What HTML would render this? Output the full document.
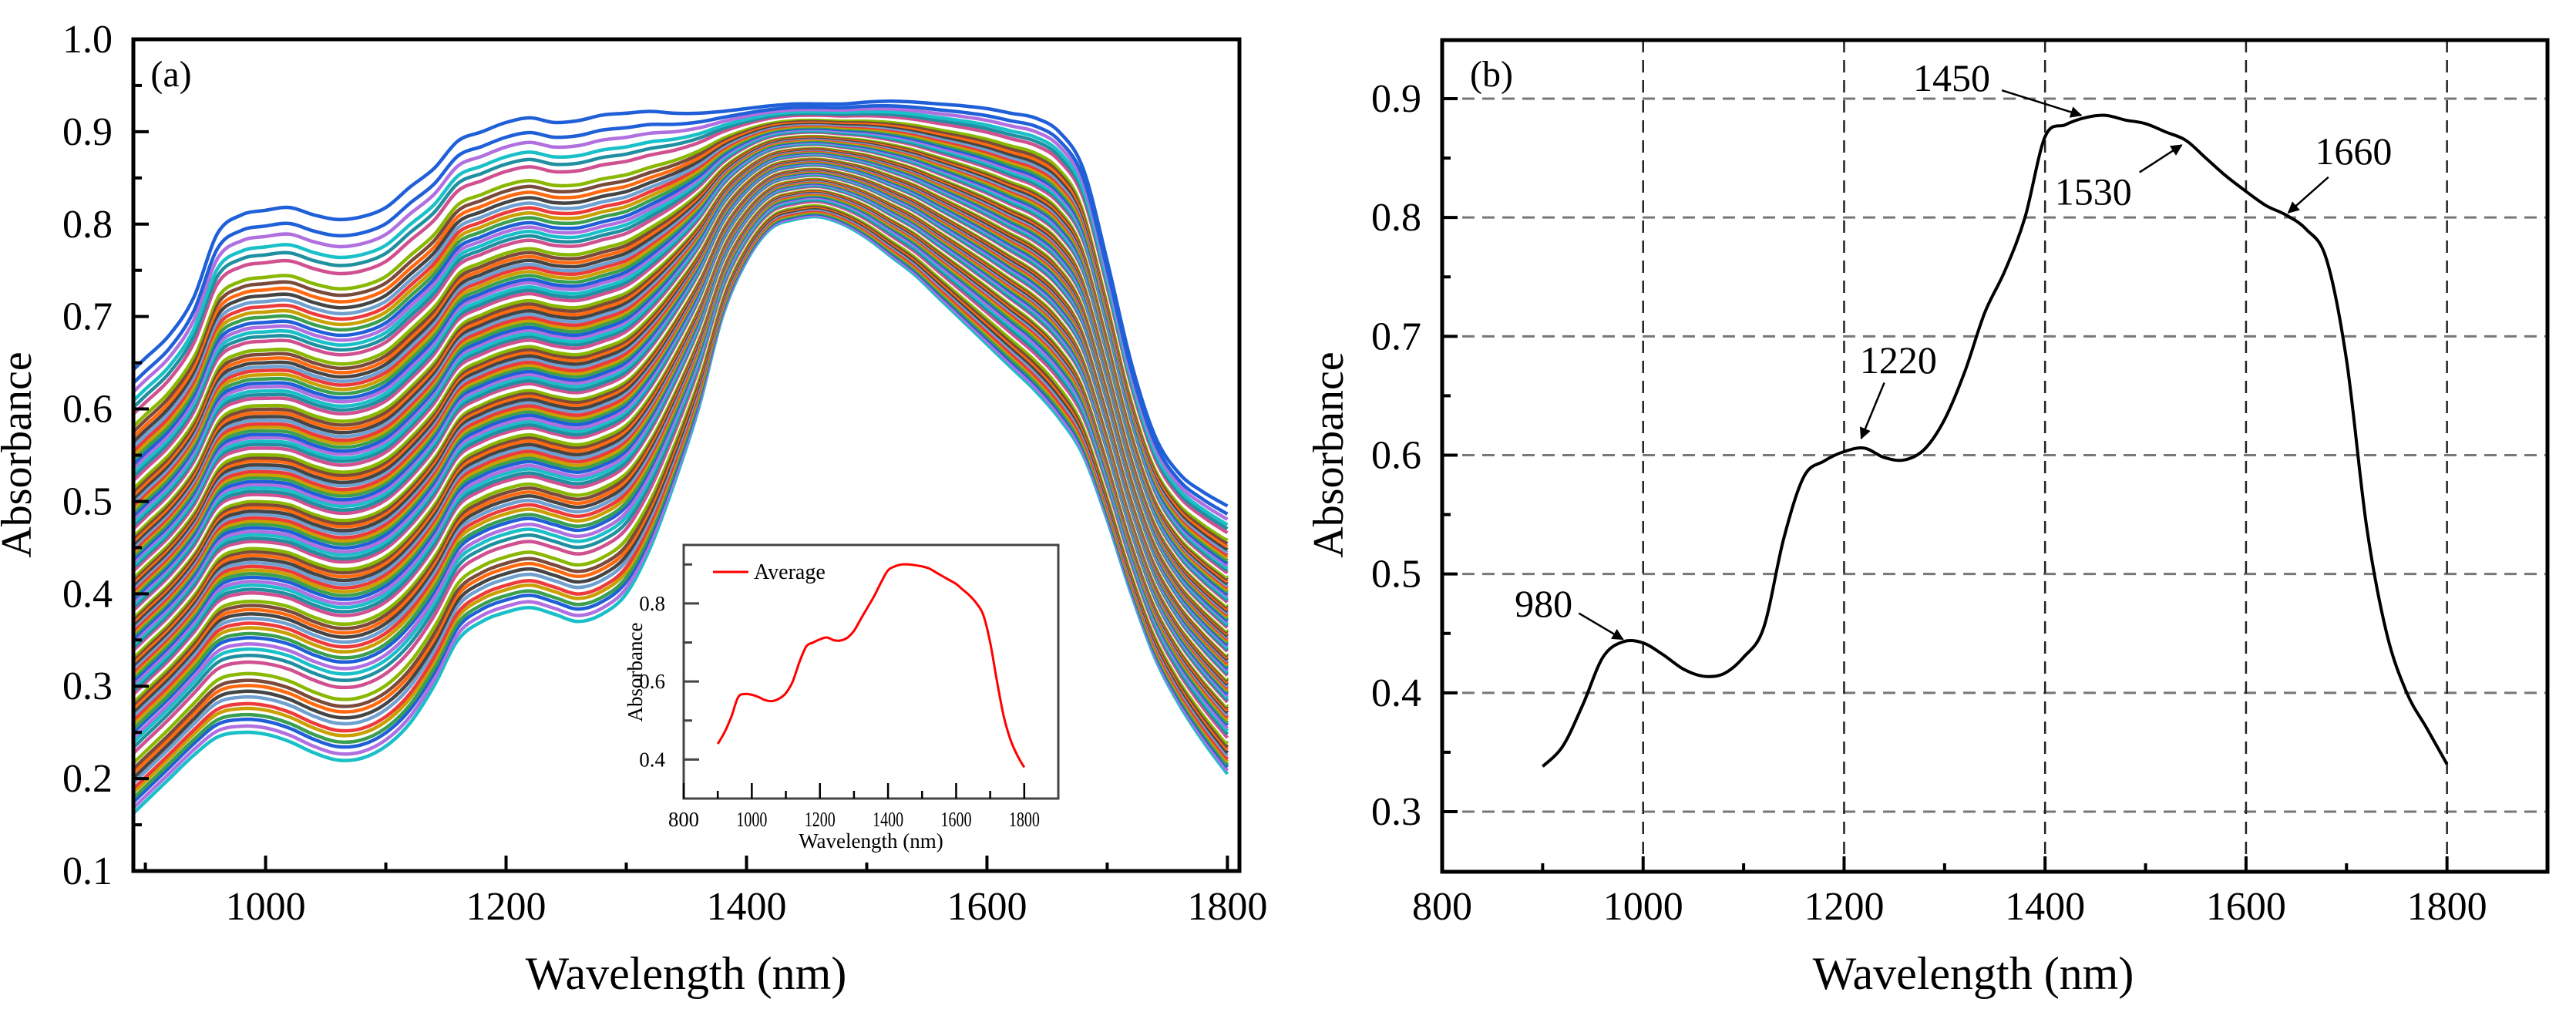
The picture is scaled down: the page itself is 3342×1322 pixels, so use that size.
<!DOCTYPE html>
<html><head><meta charset="utf-8"><style>
html,body{margin:0;padding:0;background:#fff;}
svg{display:block;font-family:"Liberation Serif",serif;}
text{font-family:"Liberation Serif",serif;}
</style></head><body>
<svg id="fig" width="3342" height="1322" viewBox="0 0 3342 1322" xmlns="http://www.w3.org/2000/svg" font-family="Liberation Serif, serif">
<g id="panelA"></g>
<g id="inset"></g>
<g id="panelB"></g>
</svg>
<script>
// ---------- data ----------
const wl = [900,920,940,960,980,1000,1020,1040,1060,1080,1100,1120,1140,1160,1180,1200,1220,1240,1260,1280,1300,1320,1340,1360,1380,1400,1420,1440,1460,1480,1500,1520,1540,1560,1580,1600,1620,1640,1660,1680,1700,1720,1740,1760,1780,1800];
const lowSpectrum = [0.175,0.2,0.225,0.245,0.25,0.248,0.24,0.228,0.22,0.222,0.235,0.26,0.30,0.35,0.37,0.38,0.385,0.378,0.37,0.378,0.40,0.45,0.52,0.60,0.70,0.76,0.795,0.805,0.808,0.80,0.785,0.765,0.745,0.72,0.695,0.67,0.645,0.62,0.59,0.55,0.48,0.40,0.33,0.28,0.24,0.205];
const highSpectrum = [0.655,0.68,0.72,0.79,0.81,0.815,0.818,0.81,0.805,0.808,0.818,0.84,0.86,0.89,0.90,0.91,0.915,0.91,0.912,0.918,0.92,0.922,0.92,0.92,0.922,0.925,0.928,0.93,0.93,0.93,0.932,0.933,0.932,0.93,0.928,0.925,0.92,0.915,0.90,0.86,0.76,0.65,0.57,0.53,0.51,0.495];
const sampleLevels = [0,0.012,0.025,0.034,0.046,0.055,0.068,0.079,0.09,0.1,0.113,0.126,0.135,0.148,0.16,0.17,0.182,0.19,0.201,0.21,0.219,0.228,0.236,0.244,0.252,0.26,0.268,0.275,0.283,0.29,0.298,0.305,0.312,0.319,0.326,0.333,0.34,0.347,0.353,0.36,0.367,0.373,0.38,0.386,0.393,0.4,0.406,0.412,0.419,0.425,0.432,0.438,0.444,0.45,0.457,0.463,0.47,0.476,0.482,0.489,0.495,0.501,0.508,0.514,0.521,0.527,0.533,0.54,0.546,0.553,0.559,0.566,0.572,0.579,0.586,0.592,0.599,0.606,0.613,0.62,0.627,0.634,0.641,0.648,0.655,0.663,0.67,0.678,0.686,0.694,0.701,0.709,0.717,0.725,0.733,0.742,0.75,0.759,0.768,0.777,0.786,0.796,0.806,0.816,0.826,0.837,0.848,0.86,0.872,0.885,0.9,0.915,0.93,0.95,0.97,1.0];
const palette = ['#19c0c8','#b070e0','#1f5fd8','#3aa050','#c8a000','#ee3a3a','#6fa0d0','#454545','#ff6a10','#7a4a3a','#8ab800','#ffffff','#d05090','#2090a0'];
const avgInset = [0.44,0.47,0.51,0.56,0.568,0.566,0.56,0.552,0.55,0.556,0.57,0.60,0.65,0.69,0.70,0.708,0.713,0.706,0.705,0.712,0.73,0.76,0.79,0.82,0.855,0.885,0.895,0.9,0.9,0.898,0.895,0.89,0.88,0.87,0.86,0.85,0.835,0.82,0.80,0.77,0.70,0.60,0.51,0.45,0.41,0.38];
const meanB = [0.338,0.355,0.39,0.43,0.443,0.442,0.432,0.42,0.414,0.416,0.43,0.455,0.53,0.582,0.595,0.603,0.606,0.598,0.596,0.605,0.63,0.67,0.72,0.755,0.80,0.868,0.878,0.884,0.886,0.882,0.879,0.872,0.865,0.85,0.835,0.822,0.81,0.802,0.79,0.765,0.68,0.54,0.45,0.40,0.37,0.34];
const peakLabels = ['980','1220','1450','1530','1660'];
const peakText = [[901,0.475],[1254,0.68],[1307,0.9175],[1448,0.822],[1707,0.856]];
const peakArrow = [[936,0.467,980,0.445],[1240,0.661,1217,0.614],[1357,0.907,1436,0.886],[1494,0.838,1536,0.861],[1682,0.834,1642,0.804]];
const ticksA_x = [1000,1200,1400,1600,1800];
const ticksA_y = [0.1,0.2,0.3,0.4,0.5,0.6,0.7,0.8,0.9,1.0];
const ticksB_x = [800,1000,1200,1400,1600,1800];
const ticksB_y = [0.3,0.4,0.5,0.6,0.7,0.8,0.9];
const ticksI_x = [800,1000,1200,1400,1600,1800];
const ticksI_y = [0.4,0.6,0.8];

// ---------- helpers ----------
const NS='http://www.w3.org/2000/svg';
function mk(parent,tag,attrs,text){const e=document.createElementNS(NS,tag);for(const k in attrs)e.setAttribute(k,attrs[k]);if(tag==='text')e.setAttribute('font-family','Liberation Serif, serif');if(text!==undefined)e.textContent=text;parent.appendChild(e);return e;}
function pathD(xs,ys,sx,sy){
  const P=xs.map((x,i)=>[sx(x),sy(ys[i])]);
  let d='M'+P[0][0].toFixed(1)+' '+P[0][1].toFixed(1);
  for(let i=0;i<P.length-1;i++){
    const p0=P[Math.max(i-1,0)],p1=P[i],p2=P[i+1],p3=P[Math.min(i+2,P.length-1)];
    const c1=[p1[0]+(p2[0]-p0[0])/6,p1[1]+(p2[1]-p0[1])/6];
    const c2=[p2[0]-(p3[0]-p1[0])/6,p2[1]-(p3[1]-p1[1])/6];
    d+=' C'+c1[0].toFixed(1)+' '+c1[1].toFixed(1)+' '+c2[0].toFixed(1)+' '+c2[1].toFixed(1)+' '+p2[0].toFixed(1)+' '+p2[1].toFixed(1);
  }
  return d;
}

// ---------- panel A ----------
const A=document.getElementById('panelA');
const aL=173,aR=1608,aT=51,aB=1130;
const ax=v=>aL+(v-890)*(aR-aL)/(1810-890);
const ay=v=>aB-(v-0.1)*(aB-aT)/(1.0-0.1);
const clipA=mk(A,'clipPath',{id:'clipA'});mk(clipA,'rect',{x:aL,y:aT,width:aR-aL,height:aB-aT});
const curves=mk(A,'g',{'clip-path':'url(#clipA)'});


sampleLevels.forEach((k,i)=>{
  const ys=wl.map((w,j)=>lowSpectrum[j]+k*(highSpectrum[j]-lowSpectrum[j]));
  const xs=[885].concat(wl);const yy=[ys[0]-(ys[1]-ys[0])*0.75].concat(ys);
  const p=mk(curves,'path',{d:pathD(xs,yy,ax,ay),fill:'none',stroke:i===sampleLevels.length-1?'#1f5fd8':palette[i%palette.length],'stroke-width':4.5,'stroke-linejoin':'round'});
  
  
});
const frameA=mk(A,'rect',{x:aL,y:aT,width:aR-aL,height:aB-aT,fill:'none',stroke:'#000','stroke-width':5});

ticksA_x.forEach(t=>{mk(A,'line',{x1:ax(t),x2:ax(t),y1:aB,y2:aB-20,stroke:'#000','stroke-width':4});
  const l=mk(A,'text',{x:ax(t),y:1193,'font-size':52,'text-anchor':'middle'},String(t));});
[900,1100,1300,1500,1700].forEach(t=>mk(A,'line',{x1:ax(t),x2:ax(t),y1:aB,y2:aB-11,stroke:'#000','stroke-width':4}));
ticksA_y.forEach(t=>{mk(A,'line',{x1:aL,x2:aL+20,y1:ay(t),y2:ay(t),stroke:'#000','stroke-width':4});
  const l=mk(A,'text',{x:146,y:ay(t)+17,'font-size':52,'text-anchor':'end'},t.toFixed(1));});
[0.15,0.25,0.35,0.45,0.55,0.65,0.75,0.85,0.95].forEach(t=>mk(A,'line',{x1:aL,x2:aL+11,y1:ay(t),y2:ay(t),stroke:'#000','stroke-width':4}));
let t1=mk(A,'text',{x:40,y:590,'font-size':56,'text-anchor':'middle',transform:'rotate(-90 40 590)'},'Absorbance');
let t2=mk(A,'text',{x:890,y:1283,'font-size':60,'text-anchor':'middle'},'Wavelength (nm)');
let t3=mk(A,'text',{x:222,y:112,'font-size':48,'text-anchor':'middle'},'(a)');

// ---------- inset ----------
const I=document.getElementById('inset');
const iL=887,iR=1373,iT=707,iB=1036;
const ix=v=>iL+(v-800)*(iR-iL)/(1900-800);
const iy=v=>iB-(v-0.3)*(iB-iT)/(0.95-0.3);
mk(I,'rect',{x:iL,y:iT,width:iR-iL,height:iB-iT,fill:'#fff',stroke:'#444','stroke-width':3});
const ip=mk(I,'path',{d:pathD(wl,avgInset,ix,iy),fill:'none',stroke:'#ff0000','stroke-width':3});

ticksI_x.forEach(t=>{mk(I,'line',{x1:ix(t),x2:ix(t),y1:iB,y2:iB-20,stroke:'#000','stroke-width':2.5});
  const l=mk(I,'text',{x:ix(t),y:1072,'font-size':27,'text-anchor':'middle',textLength:40,lengthAdjust:'spacingAndGlyphs'},String(t));});
[900,1100,1300,1500,1700].forEach(t=>mk(I,'line',{x1:ix(t),x2:ix(t),y1:iB,y2:iB-10,stroke:'#000','stroke-width':2.5}));
ticksI_y.forEach(t=>{mk(I,'line',{x1:iL,x2:iL+20,y1:iy(t),y2:iy(t),stroke:'#444','stroke-width':3});
  const l=mk(I,'text',{x:863,y:iy(t)+9,'font-size':27,'text-anchor':'end'},t.toFixed(1));});
[0.5,0.7,0.9].forEach(t=>mk(I,'line',{x1:iL,x2:iL+11,y1:iy(t),y2:iy(t),stroke:'#444','stroke-width':3}));
let i1=mk(I,'text',{x:833,y:872,'font-size':27,'text-anchor':'middle',transform:'rotate(-90 833 872)'},'Absorbance');
let i2=mk(I,'text',{x:1130,y:1100,'font-size':27,'text-anchor':'middle'},'Wavelength (nm)');
const lg=mk(I,'g',{});
mk(lg,'line',{x1:925,x2:971,y1:742,y2:742,stroke:'#ff0000','stroke-width':3});
mk(lg,'text',{x:978,y:751,'font-size':28},'Average');

// ---------- panel B ----------
const B=document.getElementById('panelB');
const bL=1871,bR=3305,bT=52,bB=1131;
const bx=v=>bL+(v-800)*(bR-bL)/(1900-800);
const by=v=>128+(0.9-v)*1541.7;
ticksB_y.forEach(t=>{const g=mk(B,'line',{x1:bL,x2:bR,y1:by(t),y2:by(t),stroke:'#777','stroke-width':3,'stroke-dasharray':'16 10'});});
[1000,1200,1400,1600,1800].forEach(t=>{const g=mk(B,'line',{x1:bx(t),x2:bx(t),y1:bT,y2:bB,stroke:'#222','stroke-width':2.5,'stroke-dasharray':'16 10'});});
const bp=mk(B,'path',{d:pathD(wl,meanB,bx,by),fill:'none',stroke:'#000','stroke-width':4,'stroke-linejoin':'round'});

const fb=mk(B,'rect',{x:bL,y:bT,width:bR-bL,height:bB-bT,fill:'none',stroke:'#000','stroke-width':5});

ticksB_x.forEach(t=>{mk(B,'line',{x1:bx(t),x2:bx(t),y1:bB,y2:bB-20,stroke:'#000','stroke-width':4});
  const l=mk(B,'text',{x:bx(t),y:1193,'font-size':52,'text-anchor':'middle'},String(t));});
[900,1100,1300,1500,1700].forEach(t=>mk(B,'line',{x1:bx(t),x2:bx(t),y1:bB,y2:bB-11,stroke:'#000','stroke-width':4}));
ticksB_y.forEach(t=>{mk(B,'line',{x1:bL,x2:bL+20,y1:by(t),y2:by(t),stroke:'#000','stroke-width':4});
  const l=mk(B,'text',{x:1844,y:by(t)+17,'font-size':52,'text-anchor':'end'},t.toFixed(1));});
[0.35,0.45,0.55,0.65,0.75,0.85].forEach(t=>mk(B,'line',{x1:bL,x2:bL+11,y1:by(t),y2:by(t),stroke:'#000','stroke-width':4}));
let b1=mk(B,'text',{x:1742,y:590,'font-size':56,'text-anchor':'middle',transform:'rotate(-90 1742 590)'},'Absorbance');
let b2=mk(B,'text',{x:2560,y:1283,'font-size':60,'text-anchor':'middle'},'Wavelength (nm)');
let b3=mk(B,'text',{x:1935,y:112,'font-size':48,'text-anchor':'middle'},'(b)');
const defs=mk(B,'defs',{});const mkr=mk(defs,'marker',{id:'ah',markerWidth:6,markerHeight:6,refX:5.5,refY:3,orient:'auto',markerUnits:'strokeWidth'});
mk(mkr,'path',{d:'M0 0 L6 3 L0 6 Z',fill:'#000'});
peakLabels.forEach((s,i)=>{
  const l=mk(B,'text',{x:bx(peakText[i][0]),y:by(peakText[i][1])+17,'font-size':50,'text-anchor':'middle'},s);
  
  
  const a=peakArrow[i];
  const ar=mk(B,'line',{x1:bx(a[0]),y1:by(a[1]),x2:bx(a[2]),y2:by(a[3]),stroke:'#000','stroke-width':2.5,'marker-end':'url(#ah)'});
  
  
});
</script>
</body></html>
